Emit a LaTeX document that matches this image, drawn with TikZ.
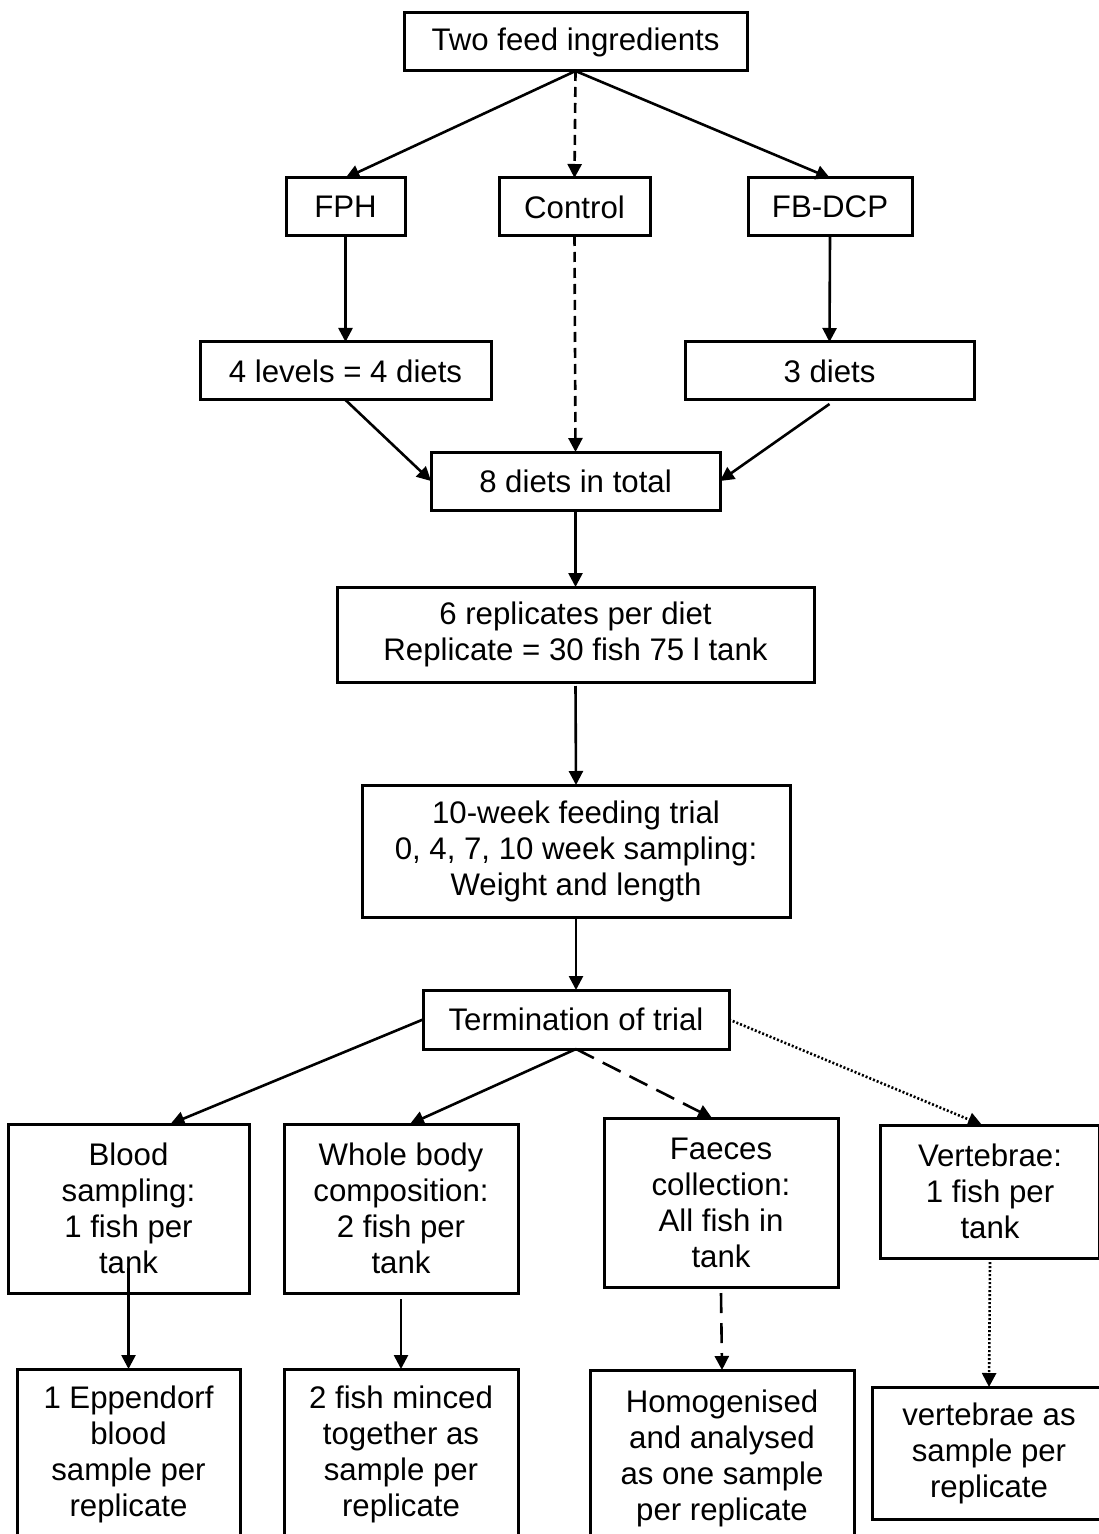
\documentclass[tikz,border=0pt]{standalone}
\usepackage{fontspec}
\setmainfont{Liberation Sans}
\usetikzlibrary{arrows.meta, positioning}

\begin{document}
\begin{tikzpicture}[x=0.5pt, y=-0.5pt, >={Triangle[length=7pt, width=7pt]}]
    \tikzstyle{block} = [draw, line width=1.5pt, align=center, inner sep=0pt,
	outer sep=0pt, font=\fontsize{15.6pt}{18pt}\selectfont]
    \tikzstyle{shortdash} = [dash pattern=on 5pt off 3pt]
    \tikzstyle{longdash} = [dash pattern=on 10pt off 5pt]
    \tikzstyle{dotline} = [line width=1.3pt, dash pattern=on 1pt off 1pt]

	\useasboundingbox (0,0) rectangle (1098,1534);

	\path[->, line width=1.3pt]
		node[block, minimum width=171.5pt, minimum height=29pt] (top) at (575.5,42) {Two feed ingredients}

		node[block, minimum width=59.5pt, minimum height=29pt] (fph) at (345.5,207) {FPH}
		node[block, minimum width=75.5pt, minimum height=29pt] (ctrl) at (574.5,207) {Control}
		node[block, minimum width=82pt, minimum height=29pt] (fbdcp) at (830,207) {FB-DCP}

		node[block, minimum width=145.5pt, minimum height=29pt] (lev4) at (345.5,371) {4 levels = 4 diets}
		node[block, minimum width=144.5pt, minimum height=29pt] (diet3) at (829.5,371) {3 diets}
		node[block, minimum width=144.5pt, minimum height=29pt] (diet8) at (575.5,481) {8 diets in total}

		node[block, minimum width=238.5pt, minimum height=47.5pt] (rep6) at (575.5,634.5)
			{6 replicates per diet\\Replicate = 30 fish 75 l tank}
		node[block, minimum width=214pt, minimum height=66pt] (trial) at (576,851)
			{10-week feeding trial\\0, 4, 7, 10 week sampling:\\Weight and length}
		node[block, minimum width=153pt, minimum height=29.5pt] (term) at (576,1019.5) {Termination of trial}

		node[block, minimum width=120.5pt, minimum height=84.5pt] (blood) at (128.5,1208.5)
			{Blood\\sampling:\\1 fish per\\tank}
		node[block, minimum width=117pt, minimum height=84.5pt] (whole) at (401,1208.5)
			{Whole body\\composition:\\2 fish per\\tank}
		node[block, minimum width=117pt, minimum height=84.5pt] (faeces) at (721,1202.5)
			{Faeces\\collection:\\All fish in\\tank}
		node[block, minimum width=109.5pt, minimum height=66.5pt] (vert) at (990,1191.5)
			{Vertebrae:\\1 fish per\\tank}

		node[block, minimum width=111.5pt, minimum height=85pt] (epp) at (128.5,1454)
			{1 Eppendorf\\blood\\sample per\\replicate}
		node[block, minimum width=117pt, minimum height=85pt] (minced) at (401,1454)
			{2 fish minced\\together as\\sample per\\replicate}
		node[block, minimum width=132pt, minimum height=88pt] (homog) at (722,1458)
			{Homogenised\\and analysed\\as one sample\\per replicate}
		node[block, minimum width=117pt, minimum height=66pt] (vsample) at (989,1453)
			{vertebrae as\\sample per\\replicate}

		(top.south) edge (fph.north)
		(top.south) edge[shortdash] (ctrl.north)
		(top.south) edge (fbdcp.north)

		(fph.south) edge (lev4.north)
		(ctrl.south) edge[shortdash] (diet8.north)
		(fbdcp.south) edge (diet3.north)

		(lev4.south) edge (diet8.west)
		([yshift=-2pt]diet3.south) edge (diet8.east)

		(diet8.south) edge (rep6.north)
		([yshift=-2pt]rep6.south) edge (trial.north)
		(trial.south) edge (term.north)

		(term.west) edge ([xshift=21pt]blood.north)
		(term.south) edge ([xshift=4.5pt]whole.north)
		(term.south) edge[longdash] ([xshift=-4.5pt]faeces.north)
		(term.east) edge[dotline] ([xshift=-4pt]vert.north)

		([yshift=12.5pt]blood.south) edge (epp.north)
		([yshift=-3pt]whole.south) edge (minced.north)
		([yshift=-3pt]faeces.south) edge[longdash] (homog.north)
		([yshift=-2pt]vert.south) edge[dotline] (vsample.north)
	;
\end{tikzpicture}
\end{document}
